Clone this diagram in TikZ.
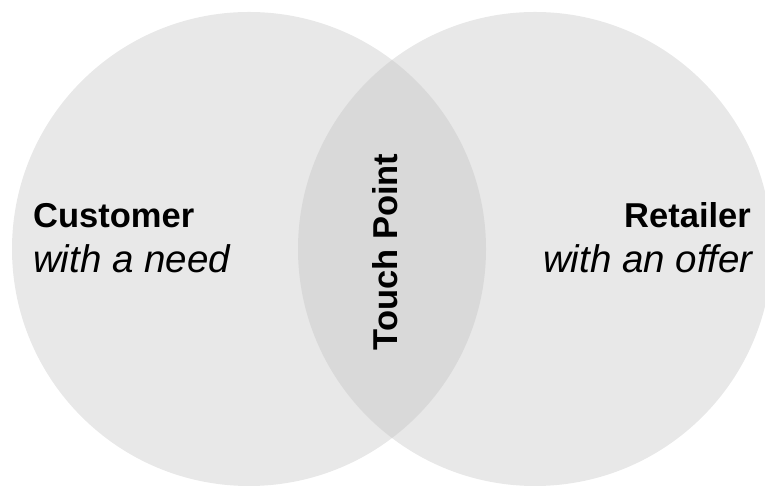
\documentclass[tikz,border=0pt]{standalone}
\usepackage{fontspec}
\setmainfont{Liberation Sans}
\definecolor{setfill}{HTML}{E8E8E8}
\definecolor{overlapfill}{HTML}{D9D9D9}
\begin{document}
\begin{tikzpicture}[x=1pt,y=1pt,
  title/.style={inner sep=0pt, font=\fontsize{34.5}{40}\selectfont\bfseries},
  subtitle/.style={inner sep=0pt, font=\fontsize{38.5}{44}\selectfont\itshape}]
\useasboundingbox (0,0) rectangle (765,486);
% the two sets
\coordinate (L) at (249,237);
\coordinate (R) at (535,237);
\fill[setfill] (L) circle (237);
\fill[setfill] (R) circle (237);
% their overlap
\begin{scope}
  \clip (L) circle (237);
  \fill[overlapfill] (R) circle (237);
\end{scope}
% labels
\node[title, anchor=base west] (cust) at (33,258) {Customer};
\node[subtitle, anchor=base west] (custsub) at (33,213) {with a need};
\node[title, anchor=base east] (ret) at (751,258) {Retailer};
\node[subtitle, anchor=base east] (retsub) at (753,213) {with an offer};
\node[title, anchor=base, rotate=90] (touch) at (397,234) {Touch Point};
\end{tikzpicture}
\end{document}
